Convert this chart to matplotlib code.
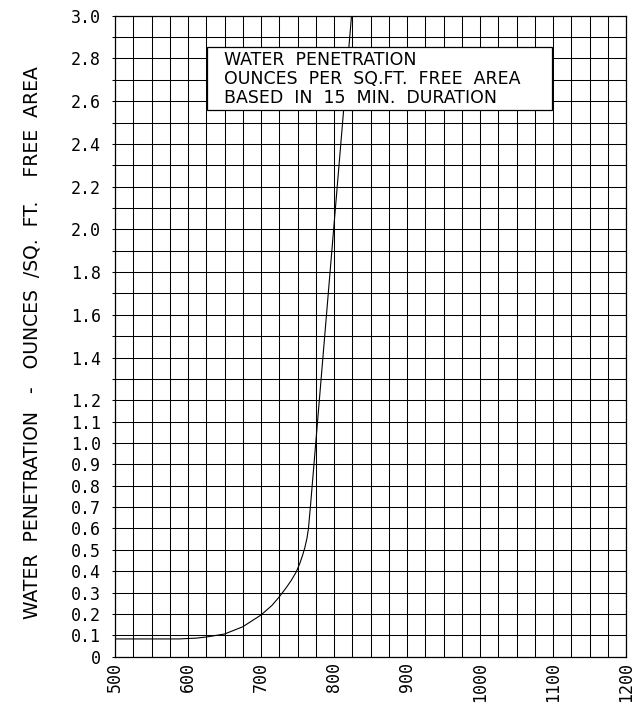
import matplotlib
matplotlib.use("Agg")
import matplotlib.pyplot as plt
from matplotlib.patches import Rectangle
import numpy as np

# curve: air velocity (x) vs water penetration (oz / sq.ft.)
velocity = [500, 588, 612, 625, 650, 675, 700, 715, 725, 735, 742, 748, 753,
            757, 760, 763, 765, 768, 824]
penetration = [0.083, 0.083, 0.087, 0.092, 0.106, 0.14, 0.195, 0.24, 0.28, 0.325,
               0.36, 0.395, 0.435, 0.475, 0.51, 0.555, 0.60, 0.715, 3.0]

x_ticks = [500, 600, 700, 800, 900, 1000, 1100, 1200]
y_ticks = [round(0.1 * i, 1) for i in range(31)]
y_labels = ["0", "0.1", "0.2", "0.3", "0.4", "0.5", "0.6", "0.7", "0.8", "0.9",
            "1.0", "1.1", "1.2", "", "1.4", "", "1.6", "", "1.8", "", "2.0",
            "", "2.2", "", "2.4", "", "2.6", "", "2.8", "", "3.0"]

box_lines = ["WATER  PENETRATION",
             "OUNCES  PER  SQ.FT.  FREE  AREA",
             "BASED  IN  15  MIN.  DURATION"]
y_title = "WATER  PENETRATION   -   OUNCES  /SQ.  FT.    FREE  AREA"

fig = plt.figure(figsize=(6.34, 7.09), dpi=100)
ax = fig.add_axes([0.1814, 0.0738, 0.806, 0.9041])

ax.set_xlim(500, 1200)
ax.set_ylim(0, 3.0)

# grid: every 25 across, every 0.1 up
for gx in np.arange(500, 1201, 25):
    ax.axvline(gx, color="black", lw=0.75, zorder=1)
for gy in y_ticks:
    ax.axhline(gy, color="black", lw=0.75, zorder=1)

ax.plot(velocity, penetration, color="black", lw=0.8, zorder=2)

for s in ax.spines.values():
    s.set_linewidth(0.9)
    s.set_color("black")

mono = "DejaVu Sans Mono"
ax.set_xticks(x_ticks)
ax.set_xticklabels([str(v) for v in x_ticks], rotation=90, ha="center", va="top",
                   family=mono, fontsize=12)
ax.set_yticks(y_ticks)
ax.set_yticklabels(y_labels, family=mono, fontsize=12)
ax.tick_params(axis="x", length=0, pad=3.6)
ax.tick_params(axis="y", length=2.5, width=0.75, pad=7.5)

ax.set_ylabel(y_title, family="DejaVu Sans", fontsize=13.5, labelpad=0)
ax.yaxis.set_label_coords(-0.143, 0.49)

# note box over the grid
bx0, bx1, by0, by1 = 0.1795, 0.856, 0.853, 0.9516
ax.add_patch(Rectangle((bx0, by0), bx1 - bx0, by1 - by0, transform=ax.transAxes,
                       facecolor="white", edgecolor="black", lw=0.9, zorder=5))
for i, line in enumerate(box_lines):
    ax.text(0.213, 0.923 - i * 0.0299, line, transform=ax.transAxes,
            ha="left", va="baseline", family="DejaVu Sans", fontsize=12.5, zorder=6)

fig.savefig("out.png", dpi=100)
